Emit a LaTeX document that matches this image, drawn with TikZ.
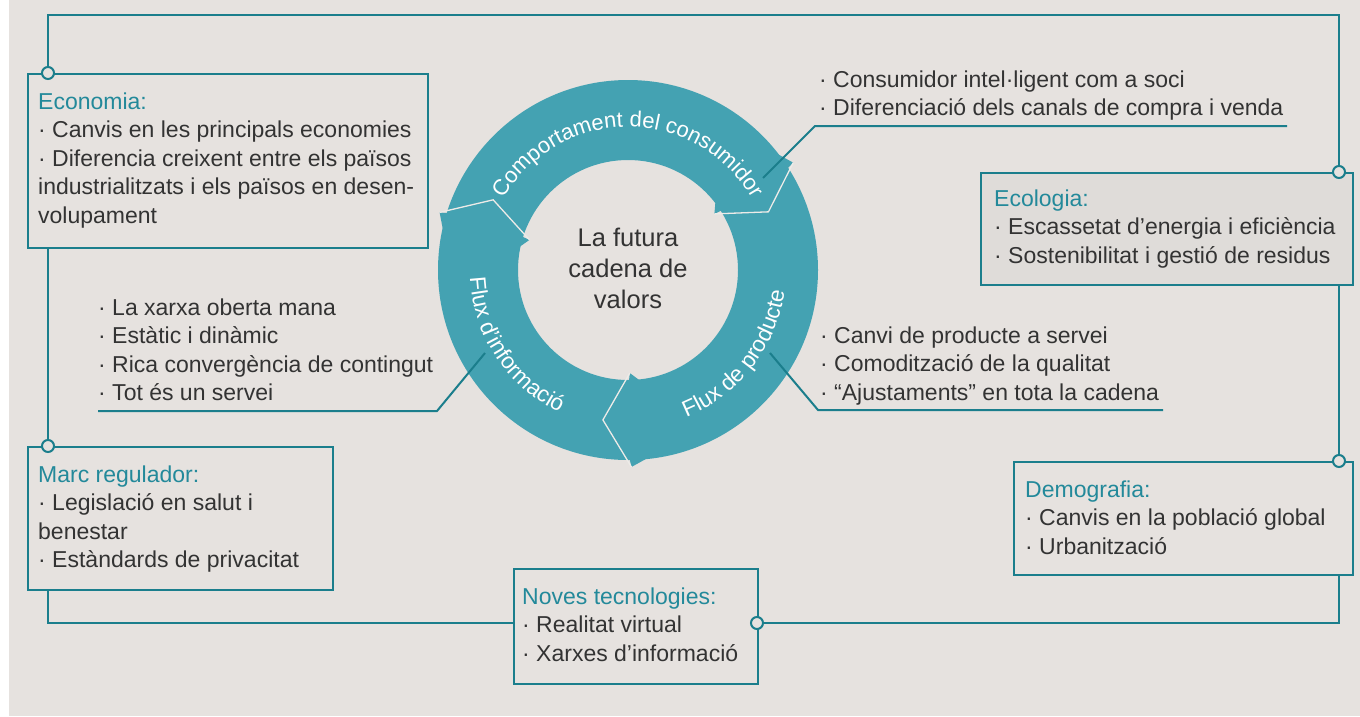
\documentclass[tikz,border=0pt]{standalone}
\usepackage{fontspec}
\setmainfont{Liberation Sans}
\usetikzlibrary{decorations.text}
\definecolor{bgC}{HTML}{E6E2DF}
\definecolor{lineC}{HTML}{1B7E8C}
\definecolor{ringC}{HTML}{44A2B2}
\definecolor{titleC}{HTML}{23899A}
\definecolor{txtC}{HTML}{333333}
\definecolor{seamC}{HTML}{EDEBE8}
\definecolor{ecoFill}{HTML}{DFDCD9}
\newcommand\mlines[1]{\vtop{\baselineskip=28.5pt\lineskiplimit=-30pt\halign{##\hfil\cr#1\crcr}}}
\newcommand\ttl[1]{\textcolor{titleC}{#1}}
\newcommand\ringfont{\fontsize{22}{22}\selectfont}
\newcommand\ringfontb{\fontsize{22.5}{22.5}\selectfont}
\begin{document}
\begin{tikzpicture}[x=1pt,y=-1pt,
 boxst/.style={draw=lineC, line width=2.2pt, rectangle, inner sep=0pt, anchor=north west},
 dotst/.style={circle, draw=lineC, fill=bgC, line width=2pt, minimum size=12pt, inner sep=0pt},
 conn/.style={draw=lineC, line width=2.2pt},
 txt/.style={anchor=base west, inner sep=0pt, text=txtC, font=\fontsize{23}{28.5}\selectfont},
 seam/.style={draw=seamC, line width=1.3pt, line join=miter}]
\useasboundingbox (0,0) rectangle (1360,716);
\fill[white] (0,0) rectangle (1360,716);
\fill[bgC] (9,0) rectangle (1360,716);

% ring
\begin{scope}[shift={(628,270)}, x=1pt, y=1pt]
 \fill[ringC, even odd rule] (0,0) circle[radius=190] (0,0) circle[radius=110];
 \foreach \a in {163,33,271} {
   \fill[ringC] (\a:197) -- (\a+5:189) -- (\a-0.5:189) -- cycle;
   \fill[ringC] (\a:103) -- (\a+5:111) -- (\a-0.5:111) -- cycle;
   \draw[seam] (\a:197) -- (\a-10.5:152) -- (\a:103);
 }
 \path[decorate, decoration={text along path, text color=white, text align=center,
   text={|\ringfont|Comportament del consumidor}}]
   (160:143) arc[start angle=160, end angle=20, radius=143];
 \path[decorate, decoration={text along path, text color=white, text align=center,
   text={|\ringfontb|Flux de producte}}]
   (-82:158) arc[start angle=-82, end angle=6, radius=158];
 \path[decorate, decoration={text along path, text color=white, text align=center,
   text={|\ringfontb|Flux d’informació}}]
   (169:158) arc[start angle=169, end angle=258, radius=158];
\end{scope}
\node[align=center, font=\fontsize{25.5}{31}\selectfont, text=txtC] (center) at (628,268) {La futura\\cadena de\\valors};

% boxes
\node[boxst, minimum width=400pt, minimum height=174pt] (eco) at (27,73) {};
\node[boxst, minimum width=305pt, minimum height=143pt] (marc) at (27,446) {};
\node[boxst, fill=ecoFill, minimum width=372pt, minimum height=112pt] (ecol) at (980,172) {};
\node[boxst, minimum width=339pt, minimum height=113pt] (demo) at (1013,461) {};
\node[boxst, minimum width=244pt, minimum height=115pt] (nov) at (513,568) {};

% dots
\node[dotst] (ce) at (48,73) {};
\node[dotst] (cm) at (48,446) {};
\node[dotst] (cec) at (1339,172) {};
\node[dotst] (cd) at (1339,461) {};
\node[dotst] (cn) at (757,623) {};

% frame connectors
\coordinate (tl) at (48,15);
\coordinate (tr) at (1339,15);
\draw[conn] (ce) -- (tl) -- (tr) -- (cec);
\draw[conn] (ecol.south -| cec) -- (cd);
\draw[conn] (demo.south -| cd) |- (cn);
\draw[conn] (nov.west |- cn) -| (marc.south -| cm);
\draw[conn] (cm) -- (eco.south -| cm);

% texts
\node[txt] (teco) at (38,109) {\mlines{\ttl{Economia:}\cr
· Canvis en les principals economies\cr
· Diferencia creixent entre els països\cr
industrialitzats i els països en desen-\cr
volupament}};
\node[txt] (tmarc) at (38,482) {\mlines{\ttl{Marc regulador:}\cr
· Legislació en salut i\cr
benestar\cr
· Estàndards de privacitat}};
\node[txt] (tecol) at (994,206) {\mlines{\ttl{Ecologia:}\cr
· Escassetat d’energia i eficiència\cr
· Sostenibilitat i gestió de residus}};
\node[txt] (tdemo) at (1025,497) {\mlines{\ttl{Demografia:}\cr
· Canvis en la població global\cr
· Urbanització}};
\node[txt] (tnov) at (522,604) {\mlines{\ttl{Noves tecnologies:}\cr
· Realitat virtual\cr
· Xarxes d’informació}};
\node[txt] (tcons) at (819,87) {\mlines{· Consumidor intel·ligent com a soci\cr
· Diferenciació dels canals de compra i venda}};
\node[txt] (tinfo) at (98,315) {\mlines{· La xarxa oberta mana\cr
· Estàtic i dinàmic\cr
· Rica convergència de contingut\cr
· Tot és un servei}};
\node[txt] (tprod) at (820,343) {\mlines{· Canvi de producte a servei\cr
· Comodització de la qualitat\cr
· “Ajustaments” en tota la cadena}};

% pointer lines
\coordinate (c1a) at (1287,126);
\coordinate (c1b) at (815,126);
\coordinate (c1c) at (763,178);
\coordinate (c2a) at (98,411);
\coordinate (c2b) at (437,411);
\coordinate (c2c) at (485,353);
\coordinate (c3a) at (1163,410);
\coordinate (c3b) at (818,410);
\coordinate (c3c) at (770,353);
\draw[conn, line width=2pt] (c1a) -- (c1b) -- (c1c);
\draw[conn, line width=2pt] (c2a) -- (c2b) -- (c2c);
\draw[conn, line width=2pt] (c3a) -- (c3b) -- (c3c);
\end{tikzpicture}
\end{document}
